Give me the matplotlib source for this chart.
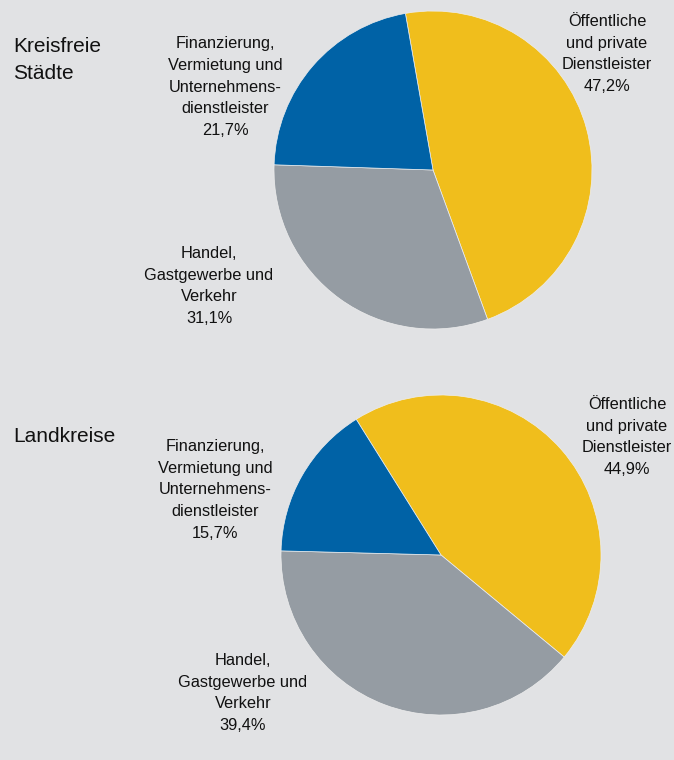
import matplotlib
matplotlib.use('Agg')
import matplotlib.pyplot as plt

# shares in percent, order: Dienstleister, Handel, Finanzierung
sectors = ['Öffentliche\nund private\nDienstleister',
           'Handel,\nGastgewerbe und\nVerkehr',
           'Finanzierung,\nVermietung und\nUnternehmens-\ndienstleister']
kreisfreie = [47.2, 31.1, 21.7]
landkreise = [44.9, 39.4, 15.7]
titles = ['Kreisfreie\nStädte', 'Landkreise']

colors = ['#f0be1c', '#959ca3', '#0062a6']
bg = '#e1e2e4'

plt.rcParams['font.family'] = ['Liberation Sans', 'DejaVu Sans']

W, H = 674, 760
fig = plt.figure(figsize=(W / 100, H / 100), dpi=100, facecolor=bg)
ax = fig.add_axes([0, 0, 1, 1])
ax.set_facecolor(bg)
ax.set_xlim(0, W)
ax.set_ylim(0, H)
ax.set_aspect('equal')
ax.axis('off')

def fmt(v):
    return ('%.1f%%' % v).replace('.', ',')

# pie geometry (pixel space, y from top)
pies = [
    dict(vals=kreisfreie, cx=433, cy=170, r=159, start=100,
         lab_pos=[(607, 54), (209, 286), (225, 87)], title_y=60),
    dict(vals=landkreise, cx=441, cy=555, r=160, start=122,
         lab_pos=[(627, 437), (243, 693), (215, 490)], title_y=436),
]

for p in pies:
    ax.pie(p['vals'], colors=colors, startangle=p['start'], counterclock=False,
           center=(p['cx'], H - p['cy']), radius=p['r'],
           wedgeprops=dict(edgecolor='#eeeeee', linewidth=0.5))
    for name, val, (lx, ly) in zip(sectors, p['vals'], p['lab_pos']):
        ax.text(lx, H - ly, name + '\n' + fmt(val), ha='center', va='center',
                fontsize=11.8, linespacing=1.57, color='#111111')

ax.text(13, H - pies[0]['title_y'], titles[0], ha='left', va='center',
        fontsize=15, linespacing=1.52, color='#111111')
ax.text(13, H - pies[1]['title_y'], titles[1], ha='left', va='center',
        fontsize=15, color='#111111')

ax.set_xlim(0, W)
ax.set_ylim(0, H)
fig.savefig('out.png', dpi=100, facecolor=bg)
